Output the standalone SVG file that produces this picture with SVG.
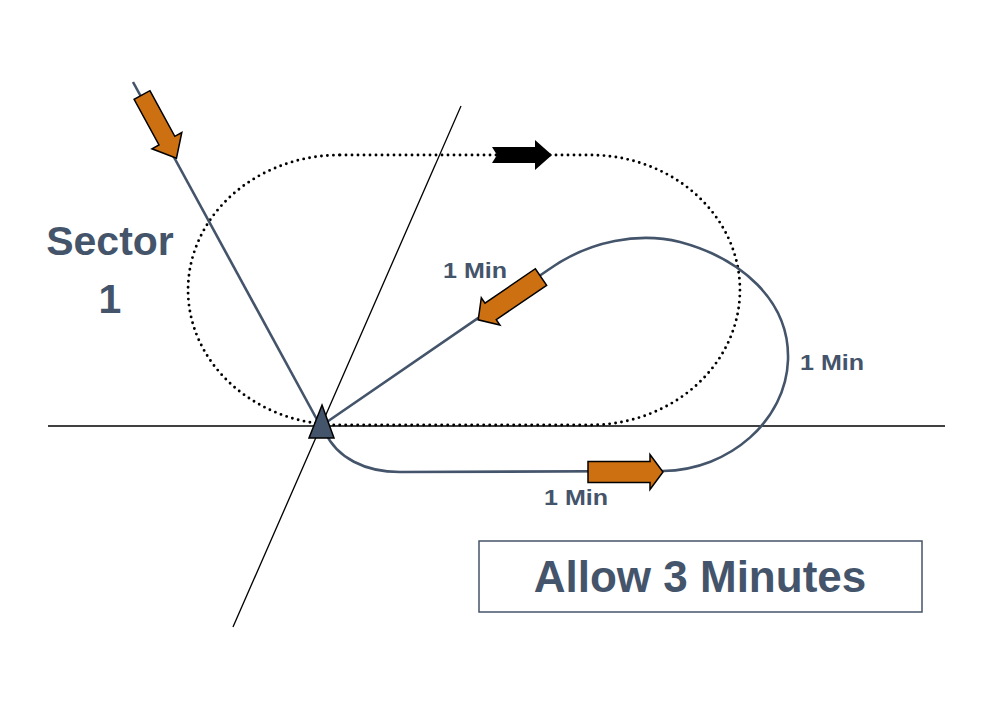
<svg xmlns="http://www.w3.org/2000/svg" width="1005" height="710" viewBox="0 0 1005 710">
<style>
.thin{stroke:#000;stroke-width:1.3;fill:none}
.track{stroke:#44546a;stroke-width:2.6;fill:none}
.dots{stroke:#000;stroke-width:2.9;fill:none;stroke-dasharray:0 6;stroke-linecap:round}
.orange{fill:#cc7011;stroke:#000;stroke-width:1.5;stroke-linejoin:miter}
.lbl{font-family:"Liberation Sans",Arial,sans-serif;font-weight:bold;fill:#44546a}
</style>
<rect width="1005" height="710" fill="#fff"/>
<g id="connectors">
<line class="thin" x1="48" y1="426" x2="945" y2="426"/>
<line class="thin" x1="233" y1="627" x2="461" y2="106"/>
<path class="dots" d="M340,155 L590,155 A150,135 0 0 1 590,425 L340,425 A152,135 0 0 1 340,155 Z"/>
<line class="track" x1="133" y1="82" x2="321" y2="427"/>
<path class="track" d="M321,426 L548,270 C590,240 640,232 680,242 C740,258 790,300 788,360 C786,420 730,470 663,471 L400,472 C365,472 337,458 325,432"/>
<polygon class="orange" transform="translate(142,95) rotate(61.4)" points="0,-9 52,-9 52,-17 72,0 52,17 52,9 0,9"/>
<polygon class="orange" transform="translate(541,277) rotate(145.7)" points="0,-10 61,-10 61,-16.5 76,0 61,16.5 61,10 0,10"/>
<polygon class="orange" transform="translate(588,472)" points="0,-10.5 62,-10.5 62,-17.5 75,0 62,17.5 62,10.5 0,10.5"/>
<polygon fill="#000" transform="translate(492,155)" points="0,-8 43,-8 43,-15 60,0 43,15 43,8 0,8 5,0"/>
</g>
<g id="beacon">
<polygon points="322,405 334,438 309,438" fill="#44546a" stroke="#000" stroke-width="1.5" stroke-linejoin="miter"/>
</g>
<g id="sector-label">
<text class="lbl" x="110" y="255" font-size="41" text-anchor="middle">Sector</text>
<text class="lbl" x="110" y="313" font-size="41" text-anchor="middle">1</text>
</g>
<g id="labels">
<text class="lbl" x="443" y="278" font-size="22" textLength="64" lengthAdjust="spacingAndGlyphs">1 Min</text>
<text class="lbl" x="800" y="370" font-size="22" textLength="64" lengthAdjust="spacingAndGlyphs">1 Min</text>
<text class="lbl" x="544" y="505" font-size="22" textLength="64" lengthAdjust="spacingAndGlyphs">1 Min</text>
</g>
<g id="note">
<rect x="479" y="541" width="443" height="71" fill="#fff" stroke="#44546a" stroke-width="1.5"/>
<text class="lbl" x="700" y="592" font-size="44" text-anchor="middle">Allow 3 Minutes</text>
</g>
</svg>
